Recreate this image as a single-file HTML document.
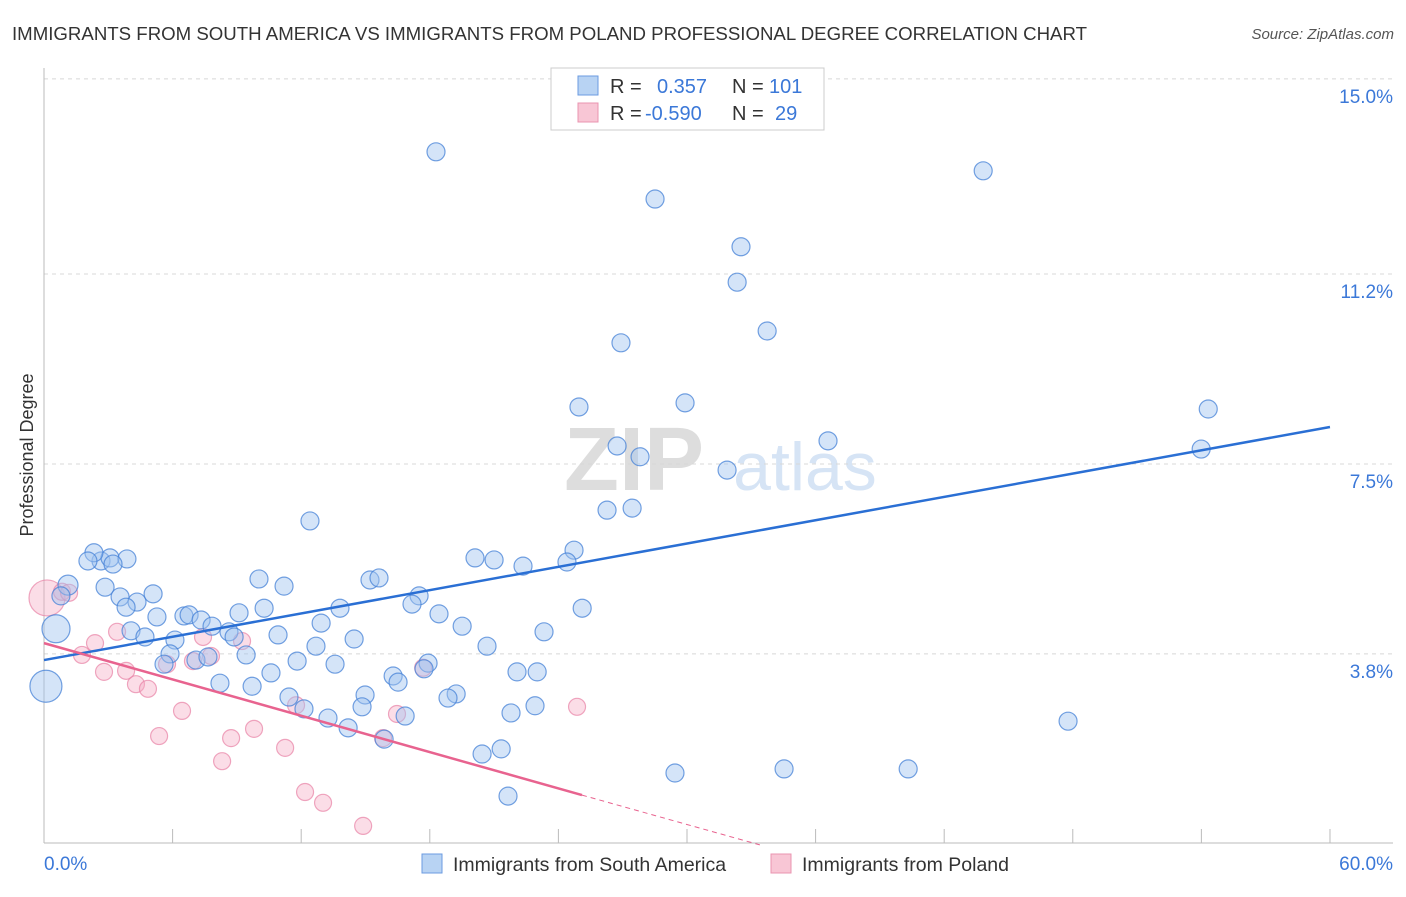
<!DOCTYPE html>
<html><head><meta charset="utf-8">
<style>
body{margin:0;background:#fff;font-family:"Liberation Sans",sans-serif;}
svg text{font-family:"Liberation Sans",sans-serif;}
</style></head>
<body>
<svg id="chart" width="1406" height="892" viewBox="0 0 1406 892">
<text x="12" y="40" font-size="18.6" fill="#333" textLength="1075" lengthAdjust="spacingAndGlyphs">IMMIGRANTS FROM SOUTH AMERICA VS IMMIGRANTS FROM POLAND PROFESSIONAL DEGREE CORRELATION CHART</text>
<text x="1394" y="39" font-size="15" fill="#555" font-style="italic" text-anchor="end">Source: ZipAtlas.com</text>
<text x="33" y="455" font-size="18" fill="#333" text-anchor="middle" transform="rotate(-90 33 455)">Professional Degree</text>
<g>
<text x="634" y="490" font-size="90" fill="#ddd" font-family="Liberation Serif" text-anchor="middle" font-weight="bold">ZIP</text>
<text x="805" y="490" font-size="68" fill="#d6e4f5" text-anchor="middle">atlas</text>
</g>
<g id="grid"></g>
<g id="axes"></g>
<g id="marks"></g>
<g id="legend">
<rect x="551" y="68" width="273" height="62" fill="#fff" stroke="#ccc"/>
<rect x="578" y="76" width="20" height="19" fill="#b8d3f3" stroke="#6b9be0"/>
<rect x="578" y="103" width="20" height="19" fill="#f8c6d5" stroke="#ea94b0"/>
<text x="610" y="93" font-size="20" fill="#333">R = <tspan x="657" fill="#3b78d8">0.357</tspan><tspan x="732" fill="#333">N = </tspan><tspan x="769" fill="#3b78d8">101</tspan></text>
<text x="610" y="120" font-size="20" fill="#333">R = <tspan x="645" fill="#3b78d8">-0.590</tspan><tspan x="732" fill="#333">N = </tspan><tspan x="775" fill="#3b78d8">29</tspan></text>
</g>
<g>
<rect x="422" y="854" width="20" height="19" fill="#b8d3f3" stroke="#6b9be0"/>
<text x="453" y="871" font-size="19.5" fill="#333">Immigrants from South America</text>
<rect x="771" y="854" width="20" height="19" fill="#f8c6d5" stroke="#ea94b0"/>
<text x="802" y="871" font-size="19.5" fill="#333">Immigrants from Poland</text>
</g>
</svg>
<script>
const yTicks=[3.8,7.5,11.2,15.0];
const yTickLabels=["3.8%","7.5%","11.2%","15.0%"];
const xTicks=[0,6,12,18,24,30,36,42,48,54,60];
const xEndLabels=["0.0%","60.0%"];
const blueX=[18.29,43.82,28.51,32.52,32.34,33.74,26.92,29.91,24.96,54.32,36.58,26.74,27.81,53.99,31.87,26.27,27.44,12.41,24.73,20.11,21.00,24.40,22.35,2.66,3.08,2.33,3.87,2.05,3.22,1.12,2.85,10.03,11.20,15.21,15.63,17.50,17.17,25.11,0.79,3.55,4.34,5.09,3.83,6.53,6.77,7.33,5.27,10.27,9.10,13.81,18.43,12.93,19.51,0.56,4.06,4.71,7.84,8.63,10.92,14.47,6.11,8.87,12.69,23.33,20.67,9.43,5.88,11.81,5.60,7.09,7.65,13.58,17.92,17.73,10.59,22.07,23.01,16.29,16.52,0.09,8.21,9.71,11.43,14.98,19.23,18.85,12.13,14.84,22.91,21.79,16.85,13.25,14.19,15.87,47.78,20.44,21.33,29.44,34.53,40.32,21.65];
const blueY=[13.58,13.21,12.66,11.73,11.04,10.09,9.86,8.69,8.61,8.57,7.95,7.85,7.64,7.79,7.38,6.60,6.64,6.39,5.82,5.67,5.63,5.59,5.51,5.61,5.67,5.77,5.65,5.61,5.55,5.14,5.10,5.26,5.12,5.24,5.28,4.93,4.77,4.69,4.93,4.91,4.81,4.97,4.71,4.54,4.56,4.46,4.52,4.69,4.60,4.69,4.58,4.40,4.34,4.29,4.25,4.13,4.34,4.23,4.17,4.09,4.07,4.13,3.95,4.23,3.95,3.78,3.80,3.66,3.60,3.68,3.74,3.60,3.62,3.51,3.43,3.45,3.45,3.37,3.25,3.17,3.23,3.17,2.96,3.00,3.02,2.94,2.73,2.77,2.79,2.65,2.59,2.55,2.36,2.14,2.49,1.85,1.95,1.48,1.56,1.56,1.03];
const blueBig={29:10,53:14,79:16};
const pinkX=[0.14,0.84,1.17,1.77,2.38,3.41,2.80,3.83,4.29,4.85,5.74,7.42,6.95,7.79,9.24,6.44,5.37,8.73,9.80,8.31,11.25,11.76,15.82,16.47,17.69,24.87,12.18,13.02,14.89];
const pinkY=[4.89,5.01,4.99,3.78,4.01,4.23,3.45,3.47,3.21,3.12,3.60,4.13,3.66,3.76,4.05,2.69,2.20,2.16,2.34,1.71,1.97,2.80,2.16,2.63,3.53,2.77,1.11,0.90,0.45];
const pinkBig={0:18};
const blueTrendX=[0,60], blueTrendY=[3.68,8.22];
const pinkTrendX=[0,25.1,33.4], pinkTrendY=[4.01,1.05,0.08];

const X=v=>44+v*21.433, Y=v=>849-v*51.34;
const NS="http://www.w3.org/2000/svg";
function mk(parent,tag,attrs){const e=document.createElementNS(NS,tag);for(const k in attrs)e.setAttribute(k,attrs[k]);document.getElementById(parent).appendChild(e);return e;}
yTicks.forEach((t,i)=>{
  const l=mk('grid','line',{x1:44,x2:1393,y1:Y(t),y2:Y(t),stroke:'#d8d8d8','stroke-dasharray':'4,4'});
  
  
  const tx=mk('axes','text',{x:1393,y:Y(t)+24,'font-size':19,fill:'#3b78d8','text-anchor':'end'});
  tx.textContent=yTickLabels[i];
  
  
});
{const a=mk('axes','line',{x1:44,x2:44,y1:68,y2:843,stroke:'#bbb'});


const b=mk('axes','line',{x1:44,x2:1393,y1:843,y2:843,stroke:'#bbb'});

}
xTicks.forEach(t=>{
  const l=mk('axes','line',{x1:X(t),x2:X(t),y1:829,y2:843,stroke:'#bbb'});
  
  
});
{const a=mk('axes','text',{x:44,y:870,'font-size':19,fill:'#3b78d8'});a.textContent=xEndLabels[0];


const b=mk('axes','text',{x:1393,y:870,'font-size':19,fill:'#3b78d8','text-anchor':'end'});b.textContent=xEndLabels[1];

}
pinkX.forEach((v,i)=>{
  const c=mk('marks','circle',{cx:X(v),cy:Y(pinkY[i]),r:pinkBig[i]||8.5,fill:'rgba(244,170,195,0.4)',stroke:'rgba(232,130,165,0.7)','stroke-width':1.2});
  
  
});
blueX.forEach((v,i)=>{
  const c=mk('marks','circle',{cx:X(v),cy:Y(blueY[i]),r:blueBig[i]||9,fill:'rgba(160,195,240,0.45)',stroke:'rgba(70,130,215,0.75)','stroke-width':1.2});
  
  
});
{const l=mk('marks','line',{x1:X(blueTrendX[0]),y1:Y(blueTrendY[0]),x2:X(blueTrendX[1]),y2:Y(blueTrendY[1]),stroke:'#2a6fd4','stroke-width':2.5});


const p=mk('marks','line',{x1:X(pinkTrendX[0]),y1:Y(pinkTrendY[0]),x2:X(pinkTrendX[1]),y2:Y(pinkTrendY[1]),stroke:'#e8638f','stroke-width':2.5});


const d=mk('marks','line',{x1:X(pinkTrendX[1]),y1:Y(pinkTrendY[1]),x2:X(pinkTrendX[2]),y2:Y(pinkTrendY[2]),stroke:'#e8638f','stroke-width':1,'stroke-dasharray':'5,4'});

}
</script>
</body></html>
